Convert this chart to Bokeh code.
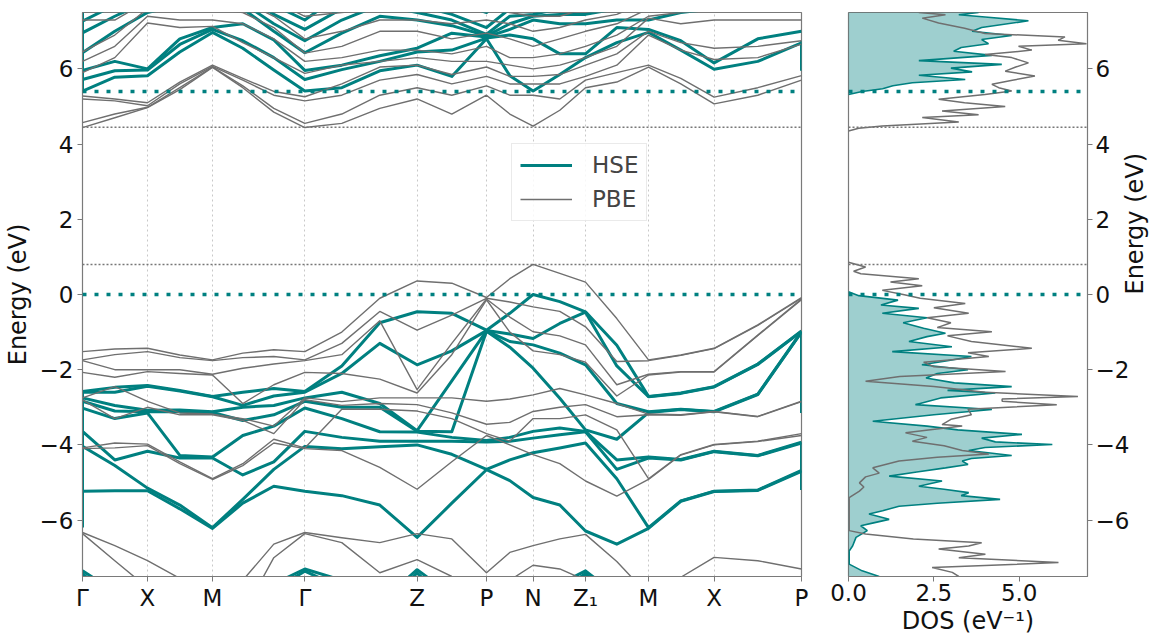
import math
from bokeh.plotting import figure
from bokeh.models import FixedTicker, Span, Legend, LegendItem, Range1d
from bokeh.layouts import row
from bokeh.embed import file_html
from bokeh.resources import INLINE

FONT = "DejaVu Sans"
TEAL = "#008080"
GRAY = "#6f6f6f"
SPINE = "#7a7a7a"

# ---- k-path ----
K_LABELS = ["Γ", "X", "M", "Γ", "Z", "P", "N", "Z₁", "M", "X", "P"]
K_TICKS = [0.0, 0.65, 1.30, 2.223, 3.346, 4.04, 4.506, 5.03, 5.66, 6.316, 7.19]
K = [0.0, 0.323, 0.65, 0.973, 1.30, 1.603, 1.913, 2.223, 2.593, 2.973, 3.346, 3.693,
     4.04, 4.273, 4.506, 4.773, 5.03, 5.343, 5.66, 5.983, 6.316, 6.753, 7.19]

# ---- HSE valence bands: energies at each k sample (eV) ----
HSE_VB = [
    [-2.58, -2.60, -2.75, -2.84, -3.02, -3.64, -4.04, -5.23],
    [-2.47, -2.60, -2.95, -3.10, -3.30, -4.40, -4.55, -5.22],
    [-2.42, -2.44, -3.08, -3.12, -3.15, -4.17, -5.15, -5.22],
    [-2.55, -2.57, -3.07, -3.12, -4.28, -4.35, -5.60, -5.70],
    [-2.71, -2.72, -3.12, -3.14, -4.32, -4.35, -6.20, -6.22],
    [-2.60, -2.95, -3.00, -3.35, -3.75, -4.80, -5.45, -5.55],
    [-2.50, -2.70, -2.95, -3.20, -3.50, -4.45, -4.65, -5.10],
    [-2.58, -2.60, -2.75, -2.84, -3.02, -3.64, -4.04, -5.23],
    [-1.90, -2.10, -2.60, -3.00, -3.30, -3.80, -4.10, -5.35],
    [-0.75, -1.30, -2.90, -3.00, -3.65, -3.90, -4.05, -5.60],
    [-0.46, -1.87, -3.62, -3.64, -3.66, -3.90, -4.00, -6.46],
    [-0.50, -1.50, -2.30, -3.65, -3.80, -3.90, -4.25, -5.55],
    [-0.95, -0.96, -0.97, -0.98, -3.88, -3.92, -4.65, -4.66],
    [-0.50, -1.05, -1.25, -1.40, -3.80, -3.90, -4.40, -4.95],
    [0.00, -1.17, -1.34, -1.96, -3.64, -3.82, -4.21, -5.40],
    [-0.19, -0.77, -1.56, -2.76, -3.55, -3.73, -4.08, -5.60],
    [-0.46, -0.47, -1.87, -3.60, -3.64, -3.65, -3.95, -6.29],
    [-1.35, -1.90, -2.90, -3.85, -4.40, -4.65, -4.90, -6.64],
    [-2.71, -2.72, -3.12, -3.14, -4.32, -4.35, -6.20, -6.22],
    [-2.62, -2.63, -3.05, -3.06, -4.39, -4.40, -5.49, -5.50],
    [-2.45, -2.46, -3.11, -3.12, -4.17, -4.18, -5.23, -5.24],
    [-1.85, -1.86, -2.65, -2.66, -4.28, -4.29, -5.20, -5.21],
    [-0.97, -0.98, -0.99, -1.00, -3.93, -3.95, -4.68, -4.70],
]
HSE_LOW = [
    [-7.35, -7.90, -8.50, -8.50, -8.50, -8.50, -7.70, -7.30, -7.60, -8.20, -7.32, -8.00,
     -8.50, -8.50, -8.50, -7.70, -7.35, -8.00, -8.50, -8.50, -8.50, -8.50, -8.50],
    [-7.42, -8.20, -8.50, -8.50, -8.50, -8.50, -7.85, -7.36, -7.80, -8.50, -7.40, -8.30,
     -8.50, -8.50, -8.50, -7.90, -7.42, -8.20, -8.50, -8.50, -8.50, -8.50, -8.50],
]
# ---- HSE conduction bands ----
HSE_CB = [
    [5.41, 5.72, 5.96, 6.43, 6.96, 7.27, 7.60, 7.90],
    [5.78, 5.95, 6.20, 7.00, 7.40, 7.70, 8.00, 8.20],
    [5.82, 5.97, 6.00, 7.50, 7.80, 8.00, 8.20, 8.40],
    [6.45, 6.65, 6.80, 7.70, 8.00, 8.20, 8.40, 8.60],
    [6.97, 7.05, 7.10, 7.80, 8.00, 8.20, 8.40, 8.60],
    [6.55, 6.75, 7.20, 7.60, 7.75, 8.00, 8.20, 8.40],
    [5.97, 6.30, 6.77, 7.00, 7.20, 7.45, 7.70, 8.00],
    [5.41, 5.72, 5.96, 6.43, 6.75, 7.05, 7.30, 7.60],
    [5.50, 5.98, 6.10, 6.95, 7.30, 7.60, 8.00, 8.20],
    [5.95, 6.20, 6.35, 7.40, 7.70, 8.00, 8.20, 8.40],
    [6.10, 6.45, 6.55, 7.30, 7.50, 7.70, 8.00, 8.20],
    [5.80, 6.50, 6.95, 7.15, 7.30, 7.45, 7.80, 8.10],
    [6.80, 6.82, 6.85, 6.88, 6.92, 7.10, 7.50, 8.00],
    [5.82, 6.90, 7.05, 7.20, 7.40, 7.60, 8.00, 8.20],
    [5.41, 6.80, 7.30, 7.40, 7.45, 7.60, 8.00, 8.20],
    [5.85, 6.40, 7.20, 7.45, 7.60, 7.80, 8.00, 8.20],
    [6.30, 6.40, 7.20, 7.45, 7.60, 7.80, 8.00, 8.20],
    [6.70, 7.10, 7.30, 7.60, 7.80, 8.00, 8.20, 8.40],
    [6.97, 7.05, 7.30, 7.60, 7.80, 8.00, 8.20, 8.40],
    [6.50, 6.75, 7.50, 7.80, 8.00, 8.20, 8.40, 8.60],
    [5.99, 6.16, 7.60, 7.80, 8.00, 8.20, 8.40, 8.60],
    [6.20, 6.80, 7.60, 7.80, 8.00, 8.20, 8.40, 8.60],
    [6.69, 7.00, 7.60, 7.80, 8.00, 8.20, 8.40, 8.60],
]
# ---- PBE valence bands ----
PBE_VB = [
    [-1.52, -1.74, -1.76, -2.07, -2.75, -2.80, -4.08, -4.10],
    [-1.45, -1.60, -2.00, -2.20, -2.45, -3.30, -3.95, -4.08],
    [-1.43, -1.52, -2.00, -2.05, -2.84, -3.00, -3.98, -4.02],
    [-1.61, -1.68, -2.00, -2.10, -3.15, -3.20, -4.45, -4.50],
    [-1.74, -1.76, -2.12, -2.14, -3.18, -3.20, -4.90, -4.92],
    [-1.56, -1.68, -1.96, -2.90, -3.30, -3.35, -4.50, -4.55],
    [-1.47, -1.65, -1.85, -2.40, -3.50, -3.70, -3.85, -3.95],
    [-1.52, -1.74, -1.76, -2.07, -2.75, -2.80, -4.08, -4.10],
    [-1.00, -1.30, -1.60, -2.10, -2.85, -2.95, -3.05, -4.15],
    [-0.10, -0.45, -0.70, -2.25, -2.75, -2.90, -3.05, -4.60],
    [0.36, -0.95, -2.53, -2.62, -2.75, -2.93, -3.10, -5.18],
    [0.30, -0.55, -1.30, -1.60, -2.75, -3.15, -3.30, -4.45],
    [-0.08, -0.10, -0.12, -0.14, -2.84, -3.45, -3.70, -3.75],
    [0.42, -0.20, -0.60, -1.00, -2.78, -3.40, -3.90, -4.00],
    [0.80, -0.33, -0.99, -1.50, -2.67, -3.11, -3.30, -4.26],
    [0.56, -0.45, -1.10, -1.60, -2.50, -3.00, -3.30, -4.50],
    [0.33, -0.86, -1.34, -1.80, -2.67, -2.93, -3.20, -4.96],
    [-0.64, -1.78, -2.40, -2.70, -2.90, -3.25, -3.60, -5.36],
    [-1.74, -1.76, -2.12, -2.14, -3.18, -3.20, -4.90, -4.92],
    [-1.61, -1.62, -2.05, -2.06, -3.20, -3.21, -4.26, -4.27],
    [-1.43, -1.44, -2.05, -2.06, -3.11, -3.12, -3.99, -4.00],
    [-0.81, -0.82, -1.08, -1.09, -3.24, -3.25, -3.90, -3.91],
    [-0.08, -0.10, -0.12, -0.14, -2.84, -2.85, -3.70, -3.75],
]
PBE_LOW = [
    [-6.33, -6.68, -7.08, -7.55, -8.00, -7.60, -6.64, -6.33, -6.47, -6.60, -6.36, -6.50,
     -7.40, -6.86, -6.68, -6.50, -6.38, -7.10, -8.00, -7.52, -6.99, -7.08, -7.30],
    [-6.36, -7.08, -7.80, -8.50, -8.50, -8.50, -7.00, -6.36, -6.60, -7.40, -7.05, -7.50,
     -8.00, -7.60, -7.20, -7.30, -7.60, -8.20, -8.50, -8.50, -8.50, -8.50, -8.50],
]
# ---- PBE conduction bands ----
PBE_CB = [
    [4.44, 4.57, 5.20, 5.28, 5.90, 6.20, 6.45, 7.30, 7.50],
    [4.70, 4.80, 5.15, 5.20, 6.30, 6.60, 6.90, 7.30, 7.60],
    [4.97, 4.98, 5.02, 5.10, 7.22, 7.40, 7.60, 7.80, 8.00],
    [5.45, 5.50, 5.60, 5.65, 7.10, 7.30, 7.60, 7.80, 8.00],
    [6.04, 6.05, 6.07, 6.10, 7.13, 7.30, 7.60, 7.80, 8.00],
    [5.50, 5.55, 5.70, 5.75, 6.70, 7.20, 7.50, 7.80, 8.00],
    [4.85, 4.95, 5.30, 5.40, 6.30, 6.80, 7.10, 7.40, 7.80],
    [4.44, 4.55, 5.15, 5.26, 5.88, 6.20, 6.42, 6.80, 7.40],
    [4.55, 4.80, 5.30, 5.60, 6.10, 6.30, 6.60, 7.00, 7.50],
    [4.95, 5.30, 5.70, 6.05, 6.20, 6.50, 7.00, 7.30, 7.60],
    [5.20, 5.50, 5.85, 6.10, 6.30, 6.50, 7.00, 7.30, 7.60],
    [4.80, 5.30, 5.60, 5.85, 6.20, 6.40, 6.80, 7.20, 7.50],
    [5.30, 5.55, 5.80, 6.05, 6.20, 6.60, 6.95, 7.30, 7.60],
    [4.80, 5.30, 5.60, 5.80, 6.10, 6.30, 6.80, 7.20, 7.50],
    [4.48, 5.30, 5.60, 5.80, 6.00, 6.30, 6.60, 7.00, 7.40],
    [4.90, 5.20, 5.60, 5.85, 6.10, 6.40, 6.80, 7.10, 7.40],
    [5.50, 5.70, 5.80, 6.10, 6.30, 6.60, 7.00, 7.30, 7.60],
    [5.65, 5.90, 6.10, 6.40, 6.60, 6.90, 7.20, 7.45, 7.70],
    [6.05, 6.10, 6.90, 7.00, 7.35, 7.40, 7.60, 7.80, 8.00],
    [5.60, 5.75, 6.50, 6.70, 7.20, 7.50, 7.80, 8.00, 8.20],
    [5.07, 5.25, 6.25, 6.55, 7.30, 7.60, 7.80, 8.00, 8.20],
    [5.30, 5.50, 6.30, 6.60, 7.30, 7.60, 7.80, 8.00, 8.20],
    [5.70, 5.82, 6.66, 6.75, 7.30, 7.60, 7.80, 8.00, 8.20],
]
# vertical HSE segments drawn at the path ends (k, E_top, E_bottom)
EDGE_K = [0.0, 0.0, 7.19, 7.19, 7.19]
EDGE_E1 = [7.50, -2.58, 6.75, -0.99, -3.93]
EDGE_E2 = [5.41, -6.20, 5.95, -3.15, -5.20]

# band edges (eV)
HSE_VBM, HSE_CBM = 0.0, 5.40
PBE_VBM, PBE_CBM = 0.80, 4.45

# ---- DOS (E, states/eV) ----
HSE_DOS_E_V = [0.07, -0.03, -0.15, -0.28, -0.37, -0.50, -0.62, -0.75, -0.90, -1.03, -1.12, -1.25,
               -1.39, -1.52, -1.65, -1.76, -1.87, -2.00, -2.10, -2.22, -2.35, -2.45, -2.55, -2.62,
               -2.75, -2.93, -3.06, -3.20, -3.37, -3.50, -3.60, -3.72, -3.82, -3.92, -3.99, -4.07,
               -4.15, -4.28, -4.36, -4.43, -4.52, -4.61, -4.72, -4.83, -4.96, -5.10, -5.18, -5.27,
               -5.35, -5.45, -5.55, -5.63, -5.75, -5.84, -5.98, -6.08, -6.15, -6.28, -6.46, -6.69,
               -6.82, -7.17, -7.35, -7.50]
HSE_DOS_V = [0.0, 0.3, 1.45, 0.95, 2.06, 0.99, 2.3, 1.6, 2.2, 2.84, 2.3, 1.77,
             3.03, 1.28, 3.6, 2.9, 2.15, 3.5, 2.6, 2.27, 3.1, 4.78, 2.9, 4.3,
             2.7, 1.96, 4.2, 2.5, 0.71, 2.3, 3.2, 5.08, 3.9, 4.3, 5.97, 4.0,
             3.52, 4.78, 3.6, 3.33, 3.5, 2.84, 2.0, 1.19, 2.74, 2.06, 2.8, 3.52,
             3.3, 4.44, 2.6, 1.48, 1.0, 0.6, 1.19, 0.7, 0.36, 0.55, 0.22, 0.12,
             0.02, 0.02, 0.4, 0.9]
HSE_DOS_E_C = [5.32, 5.40, 5.47, 5.55, 5.63, 5.72, 5.83, 5.92, 6.02, 6.12, 6.22, 6.36,
               6.47, 6.57, 6.67, 6.78, 6.89, 7.00, 7.10, 7.28, 7.38, 7.44, 7.50]
HSE_DOS_C = [0.0, 0.4, 1.0, 1.3, 1.87, 3.42, 2.06, 3.62, 3.0, 4.49, 2.06, 4.2,
             3.08, 3.3, 4.1, 3.9, 4.78, 3.62, 3.9, 5.27, 4.0, 3.23, 3.81]
PBE_DOS_E_V = [0.86, 0.73, 0.62, 0.55, 0.42, 0.33, 0.23, 0.11, 0.00, -0.10, -0.24, -0.35,
               -0.50, -0.62, -0.75, -0.88, -0.99, -1.10, -1.25, -1.43, -1.55, -1.65, -1.80, -1.92,
               -2.05, -2.18, -2.31, -2.45, -2.60, -2.71, -2.78, -2.84, -2.93, -3.05, -3.20, -3.32,
               -3.46, -3.50, -3.60, -3.68, -3.80, -3.90, -4.02, -4.15, -4.24, -4.33, -4.43, -4.61,
               -4.75, -4.85, -5.01, -5.12, -5.23, -5.40, -6.28, -6.37, -6.50, -6.60, -6.69, -6.77,
               -6.91, -7.00, -7.13, -7.26, -7.39, -7.50]
PBE_DOS_V = [0.0, 0.5, 0.15, 0.36, 2.06, 1.23, 2.16, 0.99, 1.6, 2.1, 3.42, 2.5,
             3.52, 2.3, 3.0, 2.6, 4.2, 2.9, 3.6, 5.37, 3.5, 4.11, 2.2, 2.5,
             4.6, 1.5, 0.5, 2.5, 4.0, 6.72, 4.5, 4.5, 6.1, 3.5, 3.6, 3.0,
             2.74, 3.33, 2.4, 1.67, 2.3, 1.87, 2.8, 3.33, 4.11, 2.6, 1.48, 0.71,
             0.9, 0.5, 0.32, 0.45, 0.32, 0.02, 0.02, 0.5, 1.9, 3.9, 3.52, 2.64,
             4.01, 3.23, 6.15, 2.45, 3.04, 3.23]
PBE_DOS_E_C = [4.35, 4.42, 4.48, 4.59, 4.71, 4.78, 4.88, 5.00, 5.10, 5.19, 5.32, 5.41,
               5.50, 5.59, 5.70, 5.81, 5.94, 6.05, 6.16, 6.30, 6.38, 6.50, 6.60, 6.67,
               6.76, 6.85, 6.94, 7.08, 7.22, 7.35, 7.44, 7.50]
PBE_DOS_C = [0.0, 0.3, 0.99, 3.23, 2.16, 3.81, 2.74, 4.59, 3.4, 2.64, 4.0, 4.78,
             4.4, 4.2, 4.8, 5.46, 4.59, 4.9, 5.27, 4.78, 4.0, 5.37, 4.98, 6.97,
             6.14, 6.34, 4.0, 3.4, 2.64, 2.16, 2.84, 2.06]

E_TICKS = [-6, -4, -2, 0, 2, 4, 6]
DOS_TICKS = [0.0, 2.5, 5.0]


def bands(cols):
    return [list(b) for b in zip(*cols)]


def style_axis(ax):
    ax.major_label_text_font = FONT
    ax.major_label_text_font_size = "23px"
    ax.major_label_text_color = "#111111"
    ax.axis_label_text_font = FONT
    ax.axis_label_text_font_size = "24px"
    ax.axis_label_text_font_style = "normal"
    ax.axis_label_text_color = "#111111"
    ax.axis_line_color = SPINE
    ax.major_tick_line_color = SPINE
    ax.major_tick_out = 5
    ax.major_tick_in = 0
    ax.minor_tick_out = 0
    ax.minor_tick_in = 0
    ax.major_label_standoff = 3


def minus(v):
    s = ("%g" % v)
    return s.replace("-", "\u2212")


def add_edges(p):
    p.add_layout(Span(location=HSE_VBM, dimension="width", line_color=TEAL,
                      line_width=3.5, line_dash="4 8"))
    p.add_layout(Span(location=HSE_CBM, dimension="width", line_color=TEAL,
                      line_width=3.5, line_dash="4 8"))
    p.add_layout(Span(location=PBE_VBM, dimension="width", line_color="#777777",
                      line_width=1.5, line_dash="2 2"))
    p.add_layout(Span(location=PBE_CBM, dimension="width", line_color="#777777",
                      line_width=1.5, line_dash="2 2"))


FRAME_H = 564
TOP = 12
BOTTOM = 58

# ================= band structure =================
p1 = figure(frame_width=719, frame_height=FRAME_H, min_border_left=75, min_border_right=10,
            min_border_top=TOP, min_border_bottom=BOTTOM,
            x_range=Range1d(K[0], K[-1]), y_range=Range1d(-7.5, 7.5),
            output_backend="svg", toolbar_location=None)
p1.outline_line_color = SPINE
p1.outline_line_width = 1.2
p1.background_fill_color = "white"
p1.border_fill_color = "white"

hse_all = bands(HSE_VB) + bands(HSE_CB) + HSE_LOW
pbe_all = bands(PBE_VB) + bands(PBE_CB) + PBE_LOW
r_hse = p1.multi_line([K] * len(hse_all), hse_all, line_color=TEAL, line_width=3,
                      line_join="round")
p1.segment(x0=EDGE_K, y0=EDGE_E1, x1=EDGE_K, y1=EDGE_E2, line_color=TEAL, line_width=3)
r_pbe = p1.multi_line([K] * len(pbe_all), pbe_all, line_color=GRAY, line_width=1.4,
                      line_join="round")
add_edges(p1)

p1.xaxis.ticker = FixedTicker(ticks=K_TICKS)
p1.xaxis.major_label_overrides = {k: lab for k, lab in zip(K_TICKS, K_LABELS)}
p1.yaxis.ticker = FixedTicker(ticks=E_TICKS)
p1.yaxis.major_label_overrides = {t: minus(t) for t in E_TICKS}
p1.yaxis.axis_label = "Energy (eV)"
style_axis(p1.xaxis[0])
style_axis(p1.yaxis[0])
p1.yaxis.major_label_standoff = 4
p1.yaxis.axis_label_standoff = 5
p1.xgrid.ticker = FixedTicker(ticks=K_TICKS)
p1.xgrid.grid_line_color = "#c8c8c8"
p1.xgrid.grid_line_dash = "2 3"
p1.xgrid.grid_line_width = 1
p1.ygrid.visible = False

legend = Legend(items=[LegendItem(label="HSE", renderers=[r_hse]),
                       LegendItem(label="PBE", renderers=[r_pbe])],
                location=(429, 355))
legend.label_text_font = FONT
legend.label_text_font_size = "23px"
legend.glyph_width = 52
legend.glyph_height = 26
legend.label_standoff = 20
legend.spacing = 8
legend.padding = 8
legend.margin = 0
legend.border_line_color = "#d6d6d6"
legend.border_line_width = 1
legend.background_fill_alpha = 0.85
p1.add_layout(legend)

# ================= DOS =================
p2 = figure(frame_width=239, frame_height=FRAME_H, min_border_left=37, min_border_right=69,
            min_border_top=TOP, min_border_bottom=BOTTOM,
            x_range=Range1d(0, 7.0), y_range=Range1d(-7.5, 7.5), y_axis_location="right",
            output_backend="svg", toolbar_location=None)
p2.outline_line_color = SPINE
p2.outline_line_width = 1.2
p2.grid.visible = False

p2.harea(x1=0, x2=HSE_DOS_V, y=HSE_DOS_E_V, fill_color=TEAL, fill_alpha=0.38)
p2.harea(x1=0, x2=HSE_DOS_C, y=HSE_DOS_E_C, fill_color=TEAL, fill_alpha=0.38)
p2.line(HSE_DOS_V, HSE_DOS_E_V, line_color=TEAL, line_width=1.6)
p2.line(HSE_DOS_C, HSE_DOS_E_C, line_color=TEAL, line_width=1.6)
p2.line(PBE_DOS_V, PBE_DOS_E_V, line_color=GRAY, line_width=1.5)
p2.line(PBE_DOS_C, PBE_DOS_E_C, line_color=GRAY, line_width=1.5)
add_edges(p2)

p2.xaxis.ticker = FixedTicker(ticks=DOS_TICKS)
p2.xaxis.major_label_overrides = {t: "%.1f" % t for t in DOS_TICKS}
p2.xaxis.axis_label = "DOS (eV⁻¹)"
p2.yaxis.ticker = FixedTicker(ticks=E_TICKS)
p2.yaxis.major_label_overrides = {t: minus(t) for t in E_TICKS}
p2.yaxis.axis_label = "Energy (eV)"
style_axis(p2.xaxis[0])
style_axis(p2.yaxis[0])
p2.xaxis.major_label_standoff = 2
p2.xaxis.axis_label_standoff = 3
p2.yaxis.axis_label_standoff = 3
try:
    p2.yaxis[0].axis_label_orientation = math.pi / 2
except Exception:
    pass

layout = row(p1, p2)
open("out.html", "w").write(file_html(layout, INLINE))
